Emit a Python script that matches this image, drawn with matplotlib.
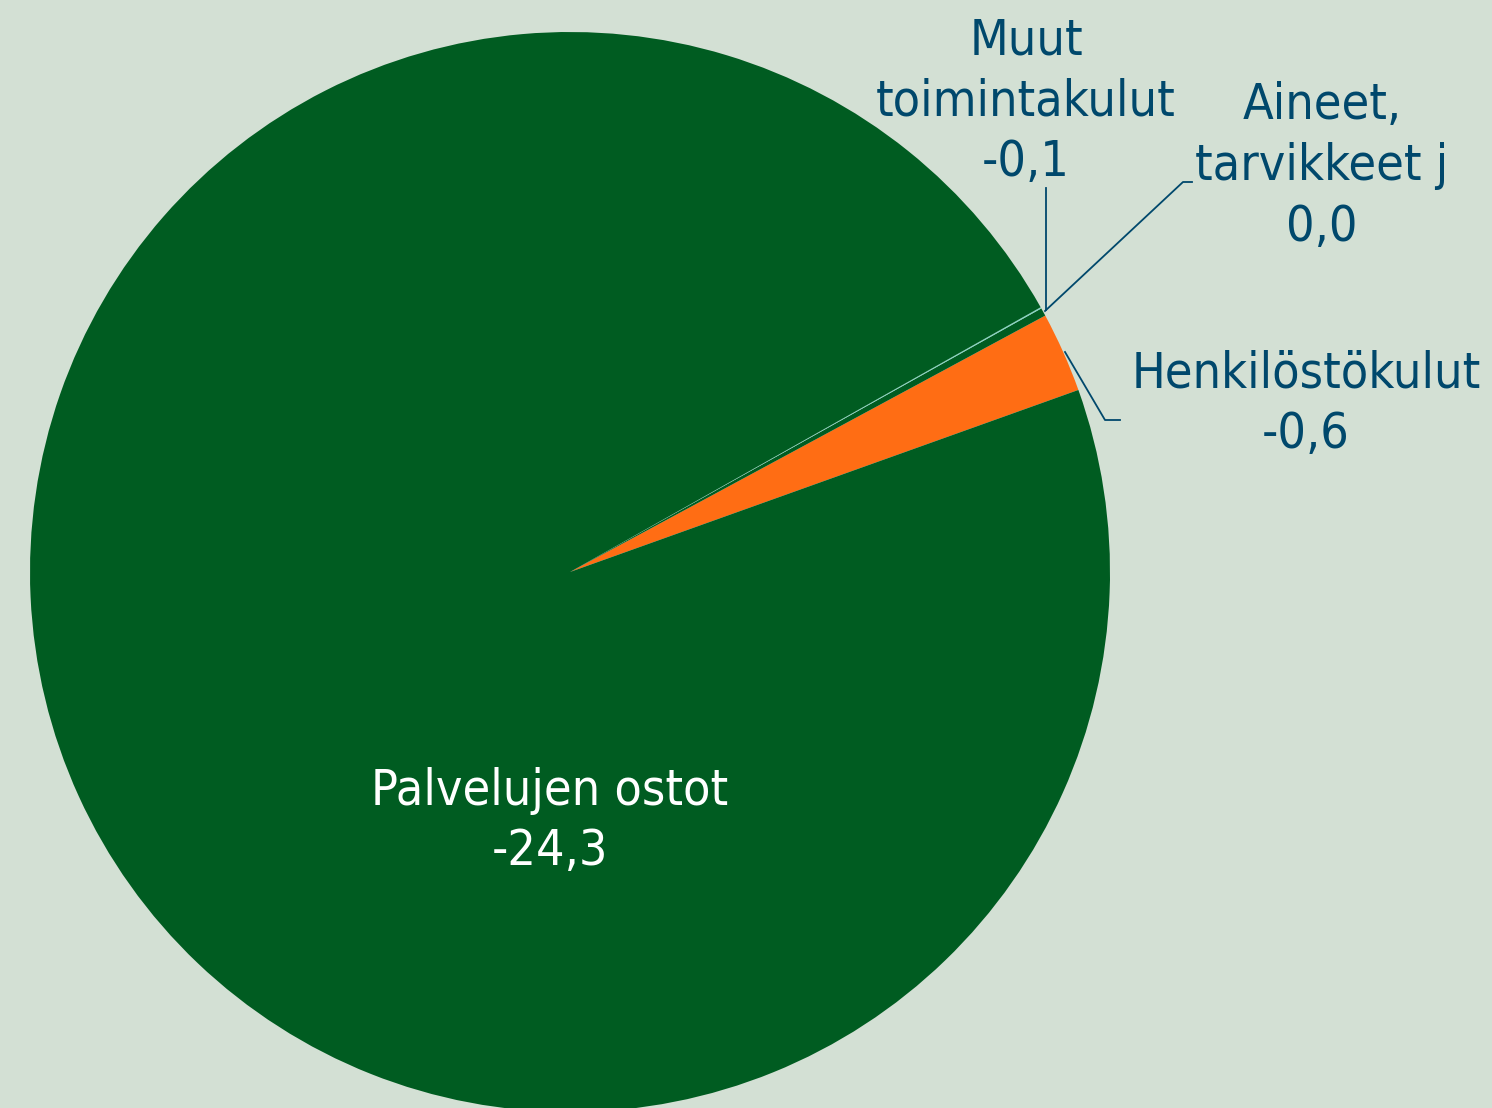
import matplotlib.pyplot as plt

# ----------------------- DATA ----------------------------------
# order: counter-clockwise starting just under the right horizontal
categories = ['Henkilöstökulut', 'Muut\ntoimintakulut', 'Aineet,\ntarvikkeet j', 'Palvelujen ostot']
values = [0.6, 0.06, 0.01, 24.3]
value_labels = ['-0,6', '-0,1', '0,0', '-24,3']
colors = ['#ff6d14', '#005c21', '#86d4c4', '#005c21']

bg = '#d3e0d4'
label_col = '#00486c'

plt.rcParams['font.family'] = ['DejaVu Sans']
plt.rcParams['font.stretch'] = 'condensed'

W, H = 1492, 1108
fig = plt.figure(figsize=(W / 100, H / 100), dpi=100, facecolor=bg)
ax = fig.add_axes([0, 0, 1, 1])
ax.set_facecolor(bg)

# pie in pixel coordinates (y measured from the bottom)
cx, cy, r = 570, H - 572, 540
ax.pie(values, colors=colors, startangle=19.7, counterclock=True,
       center=(cx, cy), radius=r, wedgeprops=dict(linewidth=0))
ax.set_xlim(0, W)
ax.set_ylim(0, H)
ax.set_aspect('equal')
ax.axis('off')

fs = 36
# label positions (pixel, from top)
pos = {
    'Henkilöstökulut': (1306, 404),
    'Muut\ntoimintakulut': (1026, 101),
    'Aineet,\ntarvikkeet j': (1322, 166),
    'Palvelujen ostot': (550, 821),
}
for cat, val in zip(categories, value_labels):
    x, y = pos[cat]
    col = 'white' if cat == 'Palvelujen ostot' else label_col
    ax.text(x, H - y, cat + '\n' + val, ha='center', va='center', fontsize=fs,
            color=col, linespacing=1.33, fontstretch='condensed')

# leader lines
lw = 1.3
ax.plot([1046, 1046], [H - 188, H - 310], color=label_col, lw=lw)
ax.plot([1192, 1183, 1045], [H - 182, H - 182, H - 311], color=label_col, lw=lw)
ax.plot([1065, 1105, 1120], [H - 352, H - 420, H - 420], color=label_col, lw=lw)

fig.savefig('out.png', dpi=100, facecolor=bg)
